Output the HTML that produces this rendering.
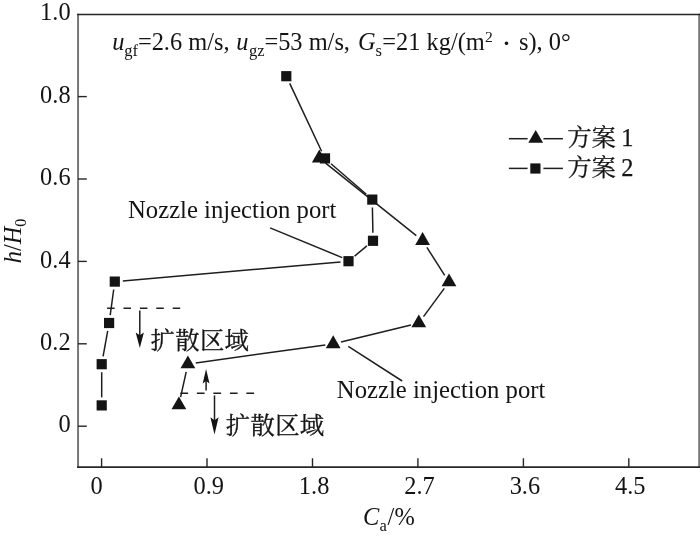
<!DOCTYPE html>
<html lang="zh">
<head>
<meta charset="utf-8">
<title>Figure</title>
<style>
html,body{margin:0;padding:0;background:#fff;}
body{width:700px;height:539px;overflow:hidden;font-family:"Liberation Serif","Noto Serif CJK SC",serif;}
svg{display:block;}
text{white-space:pre;}
</style>
</head>
<body>
<svg width="700" height="539" viewBox="0 0 700 539">
<g stroke="#1e1e1e" stroke-width="1.5" fill="none">
<line x1="289.7" y1="83.4" x2="321.6" y2="151.2"/>
<line x1="331.0" y1="163.7" x2="366.3" y2="194.3"/>
<line x1="372.4" y1="207.6" x2="372.9" y2="232.8"/>
<line x1="366.9" y1="245.9" x2="354.6" y2="256.1"/>
<line x1="340.5" y1="261.9" x2="122.8" y2="280.9"/>
<line x1="113.7" y1="289.5" x2="110.2" y2="315.1"/>
<line x1="107.7" y1="330.9" x2="103.1" y2="356.3"/>
<line x1="101.7" y1="372.2" x2="101.7" y2="397.4"/>
<line x1="325.6" y1="163.2" x2="416.3" y2="235.7"/>
<line x1="426.9" y1="247.4" x2="444.7" y2="275.3"/>
<line x1="444.3" y1="288.4" x2="423.5" y2="316.6"/>
<line x1="411.0" y1="324.9" x2="341.0" y2="342.0"/>
<line x1="325.3" y1="345.0" x2="195.8" y2="362.9"/>
<line x1="186.2" y1="371.8" x2="180.6" y2="397.2"/>
<line x1="270.1" y1="227.9" x2="342.2" y2="257.6"/>
<line x1="348.3" y1="346.4" x2="402.2" y2="381"/>
<line x1="508.9" y1="138.7" x2="527.6" y2="138.7"/><line x1="543.4" y1="138.7" x2="562.9" y2="138.7"/>
<line x1="508.9" y1="168.4" x2="527.6" y2="168.4"/><line x1="543.4" y1="168.4" x2="562.9" y2="168.4"/>
<line x1="107.1" y1="308.2" x2="180.2" y2="308.2" stroke-dasharray="7.5 8.9"/>
<line x1="180.4" y1="393.2" x2="254.6" y2="393.2" stroke-dasharray="7.7 8.8"/>
<line x1="139.8" y1="310.4" x2="139.8" y2="338"/>
<line x1="214.5" y1="395.4" x2="214.5" y2="424"/>
<line x1="206.1" y1="390.6" x2="206.1" y2="378"/>
</g>
<g fill="#141414">
<path d="M139.8 348.0 L135.7 332.4 L139.8 335.2 L143.9 332.4 Z"/>
<path d="M214.5 434.4 L210.4 417.2 L214.5 420.3 L218.6 417.2 Z"/>
<path d="M206.1 368.9 L202.7 383.5 L206.1 380.9 L209.5 383.5 Z"/>
<rect x="281.2" y="71.1" width="10.2" height="10.2"/>
<rect x="319.9" y="153.3" width="10.2" height="10.2"/>
<rect x="367.2" y="194.5" width="10.2" height="10.2"/>
<rect x="367.9" y="235.7" width="10.2" height="10.2"/>
<rect x="343.4" y="256.1" width="10.2" height="10.2"/>
<rect x="109.7" y="276.5" width="10.2" height="10.2"/>
<rect x="104.0" y="317.9" width="10.2" height="10.2"/>
<rect x="96.6" y="359.1" width="10.2" height="10.2"/>
<rect x="96.6" y="400.3" width="10.2" height="10.2"/>
<rect x="530.3" y="163.4" width="10.2" height="10.2"/>
<path d="M319.3 149.6 L311.9 162.5 L326.7 162.5 Z"/>
<path d="M422.6 232.1 L415.2 245.0 L430.0 245.0 Z"/>
<path d="M449.0 273.4 L441.6 286.3 L456.4 286.3 Z"/>
<path d="M418.8 314.4 L411.4 327.3 L426.2 327.3 Z"/>
<path d="M333.2 335.3 L325.8 348.2 L340.6 348.2 Z"/>
<path d="M187.9 355.4 L180.5 368.3 L195.3 368.3 Z"/>
<path d="M178.9 396.4 L171.5 409.3 L186.3 409.3 Z"/>
<path d="M535.7 129.9 L528.3 142.8 L543.1 142.8 Z"/>
</g>
<g fill="none">
<line x1="78.05" y1="13.8" x2="78.05" y2="467.9" stroke="#777777" stroke-width="2.0"/>
<line x1="699.1" y1="13.8" x2="699.1" y2="467.9" stroke="#777777" stroke-width="1.8"/>
<line x1="77.1" y1="14.45" x2="700" y2="14.45" stroke="#262626" stroke-width="1.45"/>
<line x1="77.1" y1="467.15" x2="700" y2="467.15" stroke="#262626" stroke-width="1.6"/>
<g stroke="#262626" stroke-width="1.4">
<line x1="101.6" y1="467" x2="101.6" y2="458.3"/>
<line x1="207.0" y1="467" x2="207.0" y2="458.3"/>
<line x1="312.5" y1="467" x2="312.5" y2="458.3"/>
<line x1="417.9" y1="467" x2="417.9" y2="458.3"/>
<line x1="523.4" y1="467" x2="523.4" y2="458.3"/>
<line x1="628.8" y1="467" x2="628.8" y2="458.3"/>
<line x1="78" y1="426.2" x2="86.8" y2="426.2"/>
<line x1="78" y1="343.8" x2="86.8" y2="343.8"/>
<line x1="78" y1="261.4" x2="86.8" y2="261.4"/>
<line x1="78" y1="179.0" x2="86.8" y2="179.0"/>
<line x1="78" y1="96.6" x2="86.8" y2="96.6"/>
</g></g>
<g fill="#141414" font-family='"Liberation Serif","Noto Serif CJK SC",serif' font-size="24.4">
<text id="yl0" x="70.6" y="432.4" text-anchor="end">0</text>
<text id="yl1" x="70.6" y="350.0" text-anchor="end">0.2</text>
<text id="yl2" x="70.6" y="267.6" text-anchor="end">0.4</text>
<text id="yl3" x="70.6" y="185.2" text-anchor="end">0.6</text>
<text id="yl4" x="70.6" y="102.8" text-anchor="end">0.8</text>
<text id="yl5" x="70.6" y="20.4" text-anchor="end">1.0</text>
<text id="xl0" x="96.6" y="493.6" text-anchor="middle">0</text>
<text id="xl1" x="208.7" y="493.6" text-anchor="middle">0.9</text>
<text id="xl2" x="314.1" y="493.6" text-anchor="middle">1.8</text>
<text id="xl3" x="419.5" y="493.6" text-anchor="middle">2.7</text>
<text id="xl4" x="524.9" y="493.6" text-anchor="middle">3.6</text>
<text id="xl5" x="630.3" y="493.6" text-anchor="middle">4.5</text>
<text id="nz1" x="128.0" y="217.9" textLength="208.4" lengthAdjust="spacingAndGlyphs">Nozzle injection port</text>
<text id="nz2" x="336.8" y="398.4" textLength="208.6" lengthAdjust="spacingAndGlyphs">Nozzle injection port</text>
<text id="zh1" stroke="#141414" stroke-width="0.3" x="150.6" y="348.5" textLength="98.4" lengthAdjust="spacing">扩散区域</text>
<text id="zh2" stroke="#141414" stroke-width="0.3" x="225.8" y="433.5" textLength="98.4" lengthAdjust="spacing">扩散区域</text>
<text id="lg1" stroke="#141414" stroke-width="0.25" x="567.2" y="146.4" word-spacing="-0.8">方案 1</text>
<text id="lg2" stroke="#141414" stroke-width="0.25" x="567.2" y="175.6" word-spacing="-0.8">方案 2</text>
<text id="t_u1" x="112.2" y="50.4" font-style="italic">u</text>
<text id="t_gf" x="124.3" y="56.199999999999996" font-size="16.5">gf</text>
<text id="t_a" x="137.9" y="50.4" >=2.6 m/s,</text>
<text id="t_u2" x="236.3" y="50.4" font-style="italic">u</text>
<text id="t_gz" x="249.1" y="56.199999999999996" font-size="16.5">gz</text>
<text id="t_b" x="264.4" y="50.4" >=53 m/s,</text>
<text id="t_G" x="357.9" y="50.4" font-style="italic">G</text>
<text id="t_s" x="375.4" y="56.199999999999996" font-size="16.5">s</text>
<text id="t_c" x="382.3" y="50.4" >=21 kg/(m</text>
<text id="t_2" x="485.0" y="42.4" font-size="15.5">2</text>
<text id="t_dot" x="506.6" y="53.0" text-anchor="middle" font-size="30">·</text>
<text id="t_d" x="519.0" y="50.4" >s), 0°</text>
<text id="xt" x="362.9" y="525.3"><tspan font-style="italic">C</tspan><tspan font-size="16.5" dy="6" dx="0.3">a</tspan><tspan dy="-6" dx="0.8">/%</tspan></text>
<text id="yt" transform="translate(21.2,263.3) rotate(-90)"><tspan font-style="italic">h</tspan>/<tspan font-style="italic">H</tspan><tspan font-size="16" dy="5">0</tspan></text>
</g>
</svg>
</body>
</html>
